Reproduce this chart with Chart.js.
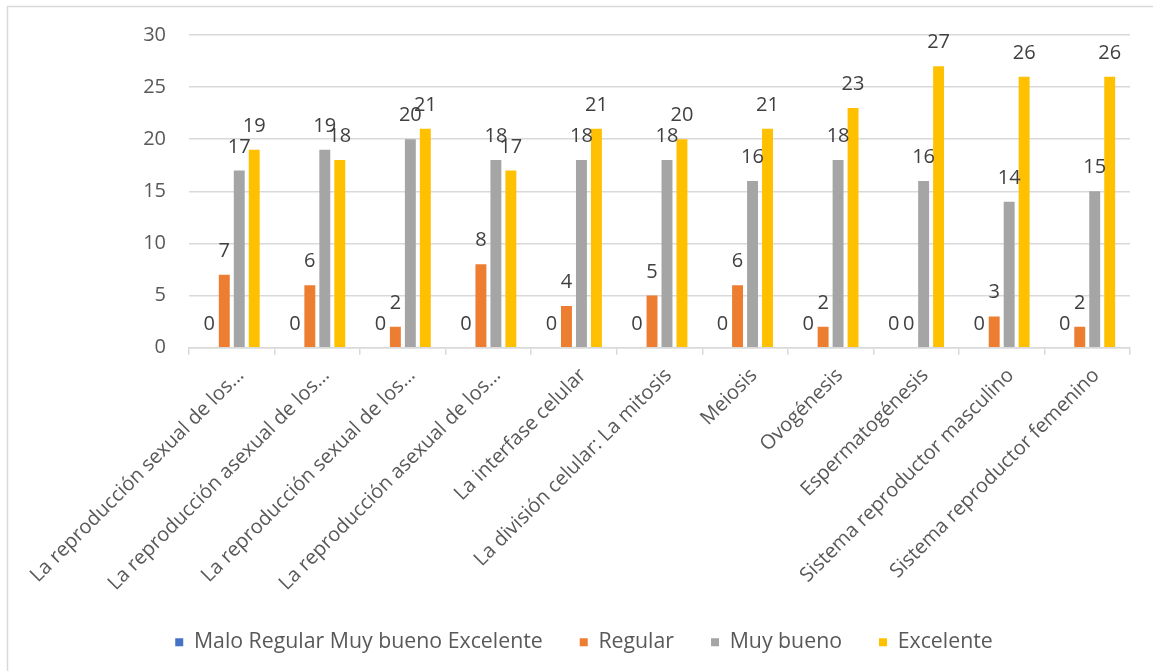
<!DOCTYPE html>
<html lang="es">
<head>
<meta charset="utf-8">
<title>Evaluación por tema</title>
<script src="https://cdn.jsdelivr.net/npm/chart.js@4.4.1/dist/chart.umd.min.js"></script>
<style>
  html, body { margin: 0; padding: 0; background: #ffffff; }
  #wrap { width: 1153px; height: 671px; position: relative; }
</style>
</head>
<body>
<div id="wrap"><canvas id="chart" width="1153" height="671"></canvas></div>
<script>
// Temas evaluados (etiquetas del eje X, tal como se muestran)
const categories = [
  'La reproducción sexual de los…',
  'La reproducción asexual de los…',
  'La reproducción sexual de los…',
  'La reproducción asexual de los…',
  'La interfase celular',
  'La división celular: La mitosis',
  'Meiosis',
  'Ovogénesis',
  'Espermatogénesis',
  'Sistema reproductor masculino',
  'Sistema reproductor femenino'
];

// Número de estudiantes por nivel de desempeño
const malo      = [0, 0, 0, 0, 0, 0, 0, 0, 0, 0, 0];
const regular   = [7, 6, 2, 8, 4, 5, 6, 2, 0, 3, 2];
const muyBueno  = [17, 19, 20, 18, 18, 18, 16, 18, 16, 14, 15];
const excelente = [19, 18, 21, 17, 21, 20, 21, 23, 27, 26, 26];

// Marcas del eje Y
const yTicks = [0, 5, 10, 15, 20, 25, 30];

const FONT = '"Open Sans", "Segoe UI", "DejaVu Sans", sans-serif';
const TEXT = '#595959';
const GRID = '#d9d9d9';

// Marco exterior del gráfico
const framePlugin = {
  id: 'frame',
  beforeDraw(chart) {
    const ctx = chart.ctx;
    ctx.save();
    ctx.fillStyle = '#ffffff';
    ctx.fillRect(0, 0, chart.width, chart.height);
    ctx.strokeStyle = GRID;
    ctx.lineWidth = 1.5;
    ctx.beginPath();
    ctx.moveTo(7.5, chart.height);
    ctx.lineTo(7.5, 6.5);
    ctx.lineTo(chart.width, 6.5);
    ctx.stroke();
    ctx.restore();
  }
};

// Centra la leyenda bajo el área de trazado en lugar de bajo todo el lienzo
const legendShift = {
  id: 'legendShift',
  afterLayout(chart) {
    const lg = chart.legend;
    if (lg) { lg.left += 15; lg.right += 15; }
  }
};

// Valores escritos sobre cada barra
const valueLabels = {
  id: 'valueLabels',
  afterDatasetsDraw(chart) {
    const ctx = chart.ctx;
    ctx.save();
    ctx.font = '20px ' + FONT;
    ctx.fillStyle = '#404040';
    ctx.textAlign = 'center';
    ctx.textBaseline = 'alphabetic';
    chart.data.datasets.forEach((ds, i) => {
      const meta = chart.getDatasetMeta(i);
      meta.data.forEach((bar, j) => {
        ctx.fillText(String(ds.data[j]), bar.x, bar.y - 18);
      });
    });
    ctx.restore();
  }
};

new Chart(document.getElementById('chart'), {
  type: 'bar',
  data: {
    labels: categories,
    datasets: [
      { label: 'Malo Regular Muy bueno Excelente', data: malo, backgroundColor: '#4472C4' },
      { label: 'Regular', data: regular, backgroundColor: '#ED7D31' },
      { label: 'Muy bueno', data: muyBueno, backgroundColor: '#A5A5A5' },
      { label: 'Excelente', data: excelente, backgroundColor: '#FFC000' }
    ]
  },
  options: {
    responsive: false,
    animation: false,
    devicePixelRatio: 1,
    categoryPercentage: 0.70,
    barPercentage: 0.73,
    layout: { padding: { left: 8, right: 23, top: 35, bottom: 8 } },
    plugins: {
      legend: {
        position: 'bottom',
        labels: {
          font: { family: FONT, size: 21.3 },
          color: TEXT,
          boxWidth: 8,
          boxHeight: 8,
          padding: 37
        }
      },
      tooltip: { enabled: false }
    },
    scales: {
      x: {
        afterFit(scale) { scale.height = 247; },
        grid: {
          offset: true,
          drawOnChartArea: false,
          drawTicks: true,
          tickLength: 7,
          color: GRID,
          lineWidth: 1.5
        },
        border: { display: true, color: GRID, width: 1.5 },
        ticks: {
          autoSkip: false,
          minRotation: 45,
          maxRotation: 45,
          padding: 9,
          labelOffset: 9,
          color: TEXT,
          font: { family: FONT, size: 20 }
        }
      },
      y: {
        min: 0,
        max: 30,
        afterFit(scale) { scale.width = 181; },
        afterBuildTicks(scale) { scale.ticks = yTicks.map(v => ({ value: v })); },
        grid: { color: GRID, lineWidth: 1.5, drawTicks: false },
        border: { display: false },
        ticks: {
          padding: 23,
          color: TEXT,
          font: { family: FONT, size: 20 }
        }
      }
    }
  },
  plugins: [framePlugin, legendShift, valueLabels]
});
</script>
</body>
</html>
